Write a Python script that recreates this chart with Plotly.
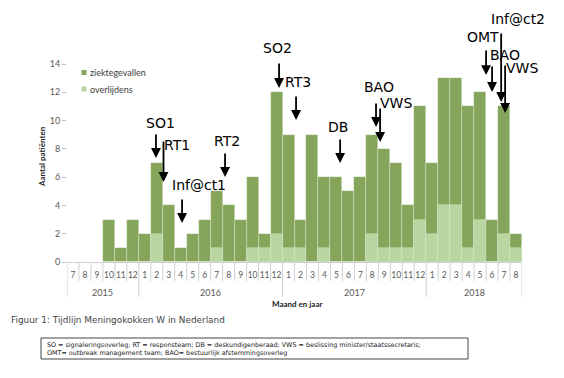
import plotly.graph_objects as go

# ---------------- data ----------------
months = [7, 8, 9, 10, 11, 12,
          1, 2, 3, 4, 5, 6, 7, 8, 9, 10, 11, 12,
          1, 2, 3, 4, 5, 6, 7, 8, 9, 10, 11, 12,
          1, 2, 3, 4, 5, 6, 7, 8]
years = ["2015", "2016", "2017", "2018"]
months_per_year = [6, 12, 12, 8]

ziektegevallen = [0, 0, 0, 3, 1, 3,
                  2, 7, 4, 1, 2, 3, 5, 4, 3, 6, 2, 12,
                  9, 3, 9, 6, 6, 5, 6, 9, 8, 7, 4, 11,
                  7, 13, 13, 11, 12, 3, 11, 2]
overlijdens = [0, 0, 0, 0, 0, 0,
               0, 2, 0, 0, 0, 0, 1, 0, 0, 1, 1, 2,
               1, 1, 0, 1, 0, 0, 0, 2, 1, 1, 1, 3,
               2, 4, 4, 1, 3, 0, 2, 1]

# events: label, arrow month-index, arrow tail value, arrow tip value, label month-index, label value
event_labels = ["SO1", "RT1", "Inf@ct1", "RT2", "SO2", "RT3", "DB",
                "BAO", "VWS", "OMT", "BAO", "Inf@ct2", "VWS"]
event_arrow_x = [6.93, 7.56, 9.11, 12.7, 17.21, 18.63, 22.31,
                 25.31, 25.65, 34.5, 35.0, 35.76, 36.09]
event_arrow_from = [9.12, 8.63, 4.53, 7.78, 14.14, 11.81, 8.77,
                    11.32, 10.96, 15.06, 13.93, 16.27, 14.0]
event_arrow_to = [7.36, 5.66, 2.76, 6.01, 12.31, 10.04, 7.0,
                  9.55, 8.49, 13.22, 12.02, 11.32, 10.54]
event_text_x = [7.35, 8.69, 10.53, 12.87, 17.04, 18.76, 22.14,
                25.56, 26.94, 34.25, 36.09, 37.13, 37.47]
event_text_y = [9.83, 8.27, 5.45, 8.56, 15.13, 12.73, 9.55,
                12.38, 11.24, 15.91, 14.64, 17.19, 13.72]

y_ticks = [0, 2, 4, 6, 8, 10, 12, 14]
series_names = ["ziektegevallen", "overlijdens"]

# ---------------- layout constants ----------------
W, H = 564, 378
OFF = 8                      # page offset of the plot div (body margin)
AX_LEFT, AX_RIGHT = 67, 522  # page px of plot area
AX_TOP, AX_BOTTOM = 10, 262
ML, MT = AX_LEFT - OFF, AX_TOP - OFF
PW, PH = AX_RIGHT - AX_LEFT, AX_BOTTOM - AX_TOP
MR, MB = W - ML - PW, H - MT - PH
PX_PER_UNIT = 198 / 14
Y_MAX = PH / PX_PER_UNIT
DARK = "#84a55a"
LIGHT = "#b9d5a0"
COLORS = [DARK, LIGHT]
GRID = "#d0d0d0"
TXT = "#595959"


def py(px):  # page pixel y -> paper y
    return (AX_BOTTOM - px) / PH


def pxx(px):  # page pixel x -> paper x
    return (px - AX_LEFT) / PW


idx = list(range(len(months)))

fig = go.Figure()
for name, vals, col in zip(series_names, [ziektegevallen, overlijdens], COLORS):
    fig.add_trace(go.Bar(x=idx, y=vals, name=name, showlegend=False,
                         marker=dict(color=col, line=dict(color="rgba(255,255,255,0.45)", width=0.6))))

shapes = []
annotations = []

# month separators & year separators
bounds_year = [-0.5]
acc = -0.5
for n in months_per_year:
    acc += n
    bounds_year.append(acc)
for k in range(len(months) + 1):
    b = k - 0.5
    is_year = b in bounds_year
    shapes.append(dict(type="line", xref="x", yref="paper", x0=b, x1=b,
                       y0=0, y1=py(297 if is_year else 281),
                       line=dict(color=GRID, width=1)))

# year labels
start = 0
for yr, n in zip(years, months_per_year):
    annotations.append(dict(x=start + (n - 1) / 2, y=py(292), xref="x", yref="paper",
                            text=yr, showarrow=False, yanchor="middle",
                            font=dict(family="Lato", size=9, color=TXT)))
    start += n

# manual legend (small square swatches)
for i, (name, col) in enumerate(zip(series_names, COLORS)):
    cy = 72.5 + i * 16.5
    shapes.append(dict(type="rect", xref="paper", yref="paper",
                       x0=pxx(81.5), x1=pxx(86.5), y0=py(cy + 2.5), y1=py(cy - 2.5),
                       fillcolor=col, line=dict(width=0)))
    annotations.append(dict(x=pxx(87.5), y=py(cy), xref="paper", yref="paper",
                            text=name, showarrow=False, xanchor="left", yanchor="middle",
                            font=dict(family="Lato", size=9, color="#404040")))

# axis titles
annotations.append(dict(x=pxx(297), y=py(304), xref="paper", yref="paper",
                        text="<b>Maand en jaar</b>", showarrow=False, yanchor="middle",
                        font=dict(family="Lato", size=8, color="#222222")))
annotations.append(dict(x=pxx(42), y=py(157), xref="paper", yref="paper",
                        text="<b>Aantal patiënten</b>", showarrow=False, textangle=-90,
                        xanchor="center", yanchor="middle",
                        font=dict(family="Lato", size=8, color="#222222")))

# event arrows and labels
for lab, ax_, a0, a1, tx, ty in zip(event_labels, event_arrow_x, event_arrow_from,
                                     event_arrow_to, event_text_x, event_text_y):
    annotations.append(dict(x=ax_, y=a1, ax=ax_, ay=a0, xref="x", yref="y",
                            axref="x", ayref="y", text="", showarrow=True,
                            arrowhead=2, arrowsize=1.1, arrowwidth=1.8,
                            arrowcolor="black", standoff=0, startstandoff=0))
    annotations.append(dict(x=tx, y=ty, xref="x", yref="y", text=lab, showarrow=False,
                            xanchor="center", yanchor="middle",
                            font=dict(family="DejaVu Sans", size=14, color="black")))

# caption
annotations.append(dict(x=pxx(9), y=py(320), xref="paper", yref="paper",
                        text="Figuur 1: Tijdlijn Meningokokken W in Nederland",
                        showarrow=False, xanchor="left", yanchor="middle",
                        font=dict(family="DejaVu Sans", size=8.9, color="#444444")))
# abbreviations box below
shapes.append(dict(type="rect", xref="paper", yref="paper",
                   x0=pxx(41), x1=pxx(468), y0=py(359), y1=py(338),
                   line=dict(color="#444444", width=1)))
annotations.append(dict(x=pxx(45), y=py(348.5), xref="paper", yref="paper",
                        text="SO = signaleringsoverleg; RT = responsteam; DB = deskundigenberaad; "
                             "VWS = beslissing minister/staatssecretaris;<br>"
                             "OMT= outbreak management team; BAO= bestuurlijk afstemmingsoverleg",
                        showarrow=False, xanchor="left", yanchor="middle", align="left",
                        font=dict(family="DejaVu Sans", size=6.4, color="#222222")))

fig.update_layout(
    width=W, height=H,
    margin=dict(l=ML, r=MR, t=MT, b=MB, autoexpand=False),
    paper_bgcolor="white", plot_bgcolor="white",
    barmode="overlay", bargap=0,
    showlegend=False,
    xaxis=dict(range=[-0.5, len(months) - 0.5], tickmode="array", tickvals=idx,
               ticktext=[str(m) for m in months], showgrid=False, zeroline=False,
               showline=True, linecolor=GRID, linewidth=1, ticks="", tickangle=0,
               ticklabelstandoff=5,
               tickfont=dict(family="Lato", size=8.5, color=TXT)),
    yaxis=dict(range=[0, Y_MAX], tickmode="array", tickvals=y_ticks, showgrid=False,
               zeroline=False, showline=False, ticks="outside", ticklen=4,
               tickcolor="#bfbfbf", tickfont=dict(family="Lato", size=9, color=TXT)),
    shapes=shapes, annotations=annotations,
)

fig.write_html("out.html")
